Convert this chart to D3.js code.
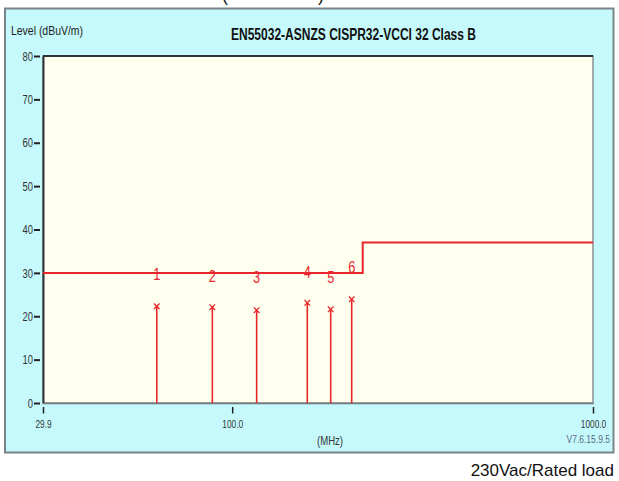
<!DOCTYPE html>
<html><head><meta charset="utf-8">
<script src="https://cdn.jsdelivr.net/npm/d3@7"></script>
<style>
body{margin:0;background:#fff;}
svg{display:block;}
</style></head>
<body>
<svg id="chart" width="619" height="481"></svg>
<script>
// ---- data ----
const title = "EN55032-ASNZS CISPR32-VCCI 32 Class B";
const yLabel = "Level (dBuV/m)";
const xLabel = "(MHz)";
const version = "V7.6.15.9.5";
const caption = "230Vac/Rated load";
const yTicks = [0,10,20,30,40,50,60,70,80];
const xTicks = [29.9, 100.0, 1000.0];
const xTickLabels = ["29.9", "100.0", "1000.0"];
const limitFreq = [29.9, 230, 230, 1000];
const limitLevel = [30, 30, 37, 37];
const markerIds = ["1","2","3","4","5","6"];
const markerFreq = [61.8, 88.1, 116.9, 161.5, 187.5, 214.4];
const markerLevel = [22.3, 22.1, 21.4, 23.1, 21.6, 23.9];
const markerLabelLevel = [28.4, 27.9, 27.6, 28.8, 27.6, 30.0];

// ---- layout ----
const FONT = "Liberation Sans, Arial, sans-serif";
const svg = d3.select("#chart");
const L = 43, R = 593, T = 56, B = 403;
const x = d3.scaleLog().domain([29.9, 1000]).range([L, R]);
const y = d3.scaleLinear().domain([0, 80]).range([B, T]);
const red = "#e8262b";

// condense text horizontally (narrow-font look)
function narrow(sel, factor) {
  sel.each(function() {
    const w = this.getComputedTextLength();
    d3.select(this).attr("textLength", w * factor).attr("lengthAdjust", "spacingAndGlyphs");
  });
}

// partially visible caption at top edge
svg.append("text").attr("x", 222).attr("y", 1).attr("font-family", FONT).attr("font-size", 18).attr("fill","#222").text("(");
svg.append("text").attr("x", 318).attr("y", 1).attr("font-family", FONT).attr("font-size", 18).attr("fill","#222").text(")");

// outer panel
svg.append("rect").attr("x", 5).attr("y", 8.5).attr("width", 608.5).attr("height", 444)
  .attr("fill", "#c5f9fc").attr("stroke", "#7a8486").attr("stroke-width", 2);

// plot background
svg.append("rect").attr("x", L).attr("y", T).attr("width", R - L).attr("height", B - T)
  .attr("fill", "#fffff0").attr("stroke", "#8c9090").attr("stroke-width", 1.5);

// title & labels
svg.append("text").attr("x", 231).attr("y", 40)
  .attr("font-family", FONT).attr("font-size", 16.5).attr("font-weight","bold").attr("fill","#111")
  .attr("textLength", 245).attr("lengthAdjust","spacingAndGlyphs").text(title);
svg.append("text").attr("x", 11).attr("y", 35)
  .attr("font-family", FONT).attr("font-size", 12.5).attr("fill","#222")
  .attr("textLength", 72).attr("lengthAdjust","spacingAndGlyphs").text(yLabel);

// y axis
const yAxis = d3.axisLeft(y).tickValues(yTicks).tickSize(0).tickPadding(10).tickFormat(d3.format("d"));
const gy = svg.append("g").attr("transform", `translate(${L},0)`).call(yAxis);
gy.select(".domain").attr("stroke","#2b3535").attr("stroke-width",2);
gy.selectAll(".tick line").remove();
gy.selectAll(".tick").append("line").attr("x1", -9).attr("x2", -3).attr("stroke","#222").attr("stroke-width",2);
gy.selectAll(".tick text").attr("font-family", FONT).attr("font-size",12).attr("fill","#333").attr("dy","0.35em");
narrow(gy.selectAll(".tick text"), 0.78);

// top border dark
svg.append("line").attr("x1", L).attr("x2", R).attr("y1", T).attr("y2", T).attr("stroke","#2b3535").attr("stroke-width",2);

// x axis
const xAxis = d3.axisBottom(x).tickValues(xTicks).tickSize(0).tickPadding(0)
  .tickFormat((d,i) => xTickLabels[i]);
const gx = svg.append("g").attr("transform", `translate(0,${B})`).call(xAxis);
gx.select(".domain").attr("stroke","#6f7a7a").attr("stroke-width",1.5);
gx.selectAll(".tick line").remove();
gx.selectAll(".tick").append("line").attr("y1", 4).attr("y2", 10.5).attr("stroke","#222").attr("stroke-width",1.5);
gx.selectAll(".tick text").attr("dy", 0).attr("y", 25).attr("font-family", FONT).attr("font-size",11.5).attr("fill","#333");
narrow(gx.selectAll(".tick text"), 0.72);

const xl = svg.append("text").attr("x", 330).attr("y", 445).attr("text-anchor","middle")
  .attr("font-family", FONT).attr("font-size", 12).attr("fill","#333").text(xLabel);
narrow(xl, 0.8);
const vt = svg.append("text").attr("x", 610).attr("y", 443).attr("text-anchor","end")
  .attr("font-family", FONT).attr("font-size", 10).attr("fill","#5a6c80").text(version);
narrow(vt, 0.85);

// limit line
const limitData = limitFreq.map((f,i)=>({f, v: limitLevel[i]}));
svg.append("path").datum(limitData)
  .attr("d", d3.line().x(d=>x(d.f)).y(d=>y(d.v)))
  .attr("fill","none").attr("stroke", red).attr("stroke-width", 2);

// markers
const markers = markerFreq.map((f,i)=>({id: markerIds[i], f, v: markerLevel[i], lv: markerLabelLevel[i]}));
const mg = svg.append("g");
mg.selectAll("line.stem").data(markers).join("line").attr("class","stem")
  .attr("x1", d=>x(d.f)).attr("x2", d=>x(d.f)).attr("y1", d=>y(d.v)).attr("y2", B)
  .attr("stroke", red).attr("stroke-width", 1.6);
mg.selectAll("path.cross").data(markers).join("path").attr("class","cross")
  .attr("d", d=>{const cx=x(d.f), cy=y(d.v), s=2.8; return `M${cx-s},${cy-s}L${cx+s},${cy+s}M${cx-s},${cy+s}L${cx+s},${cy-s}`;})
  .attr("stroke", red).attr("stroke-width", 1.3).attr("fill","none");
const ids = mg.selectAll("text.id").data(markers).join("text").attr("class","id")
  .attr("x", d=>x(d.f)).attr("y", d=>y(d.lv)).attr("text-anchor","middle")
  .attr("font-family", FONT).attr("font-size", 16).attr("fill", red).text(d=>d.id);
narrow(ids, 0.8);

// bottom caption
svg.append("text").attr("x", 614).attr("y", 476).attr("text-anchor","end")
  .attr("font-family", FONT).attr("font-size", 17).attr("fill","#111").text(caption);
</script>
</body></html>
